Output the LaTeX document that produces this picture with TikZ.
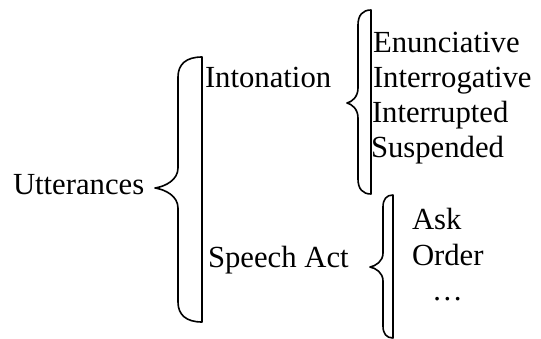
\documentclass[tikz,border=0pt]{standalone}
\usepackage{fontspec}
\setmainfont{Liberation Serif}
\tikzset{
  lbl/.style={anchor=base west,inner sep=0pt,outer sep=0pt,font=\fontsize{30.7}{35}\selectfont},
  bracebox/.style={line width=1.6pt,line join=round}
}
% #1 line x, #2 body x, #3 point x, #4 top, #5 bottom, #6 middle, #7 end radius, #8 mid radius
\newcommand{\mybrace}[8]{%
  \draw[bracebox] (#1,#4) .. controls ({#2+(#1-#2)*0.35},#4) and (#2,{#4+#7*0.35}) .. (#2,{#4+#7})
    -- (#2,{#6-#8}) .. controls (#2,{#6-#8*0.4}) and ({#3+(#2-#3)*0.45},{#6-#8*0.08}) .. (#3,#6)
    .. controls ({#3+(#2-#3)*0.45},{#6+#8*0.08}) and (#2,{#6+#8*0.4}) .. (#2,{#6+#8})
    -- (#2,{#5-#7}) .. controls (#2,{#5-#7*0.35}) and ({#2+(#1-#2)*0.35},#5) .. (#1,#5)
    -- cycle;}
\begin{document}
\begin{tikzpicture}[x=1pt,y=-1pt]
\useasboundingbox (0,0) rectangle (541,338);
\fill[white] (0,0) rectangle (541,338);
\mybrace{202}{178}{155}{57}{322}{188}{20}{20}
\mybrace{371}{358}{347}{10}{194}{103}{15}{15}
\mybrace{393}{383}{370}{195}{338}{267}{12}{14}
\node[lbl] (utt) at (13,194) {Utterances};
\node[lbl] (into) at (205,87) {Intonation};
\node[lbl] (spa) at (208,267) {Speech Act};
\node[lbl] (enu) at (373,52) {Enunciative};
\node[lbl] (inter) at (373,87) {Interrogative};
\node[lbl] (intr) at (372,122) {Interrupted};
\node[lbl] (susp) at (371,157) {Suspended};
\node[lbl] (ask) at (412,229) {Ask};
\node[lbl] (ord) at (412,265) {Order};
\node[lbl] (dots) at (432,300) {…};
\end{tikzpicture}
\end{document}
